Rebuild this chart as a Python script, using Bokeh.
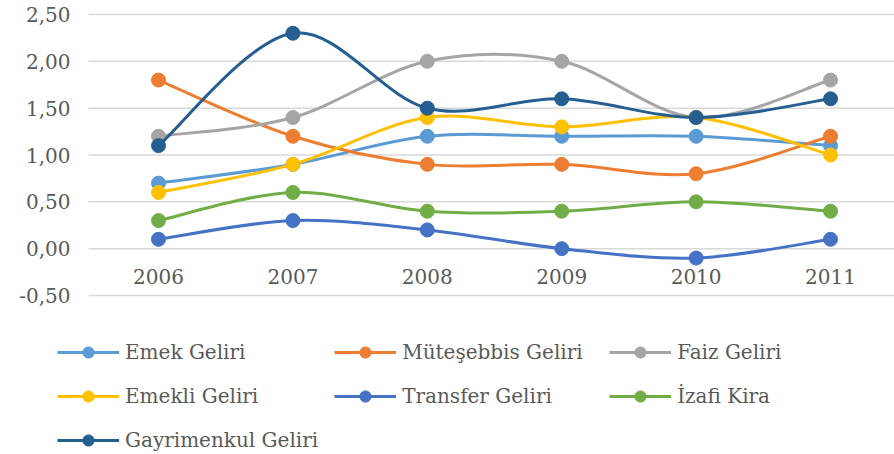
from bokeh.plotting import figure
from bokeh.models import Legend, LegendItem, ColumnDataSource, Range1d
from bokeh.core.properties import value
from bokeh.embed import file_html
from bokeh.resources import INLINE

years = ["2006", "2007", "2008", "2009", "2010", "2011"]
emek = [0.7, 0.9, 1.2, 1.2, 1.2, 1.1]
muteşebbis = [1.8, 1.2, 0.9, 0.9, 0.8, 1.2]
faiz = [1.2, 1.4, 2.0, 2.0, 1.4, 1.8]
emekli = [0.6, 0.9, 1.4, 1.3, 1.4, 1.0]
transfer = [0.1, 0.3, 0.2, 0.0, -0.1, 0.1]
izafi = [0.3, 0.6, 0.4, 0.4, 0.5, 0.4]
gayrimenkul = [1.1, 2.3, 1.5, 1.6, 1.4, 1.6]

series_names = ["Emek Geliri", "Müteşebbis Geliri", "Faiz Geliri",
                "Emekli Geliri", "Transfer Geliri", "İzafi Kira", "Gayrimenkul Geliri"]
series_values = [emek, muteşebbis, faiz, emekli, transfer, izafi, gayrimenkul]
colors = ["#5B9BD5", "#ED7D31", "#A5A5A5", "#FFC000", "#4472C4", "#70AD47", "#255E91"]

y_ticks = [-0.5, 0.0, 0.5, 1.0, 1.5, 2.0, 2.5]
y_tick_labels = ["-0,50", "0,00", "0,50", "1,00", "1,50", "2,00", "2,50"]

FONT = "DejaVu Serif"
TXT = "#595959"

# plot-area extent along x (category axis), in category units
CAT_LEFT, CAT_RIGHT = -0.521, 5.476

# the frame covers the whole canvas; legend and tick labels live inside it
p = figure(width=894, height=454, x_range=Range1d(-1.1756, CAT_RIGHT), y_range=Range1d(-2.1975, 2.6495),
           output_backend="svg", toolbar_location=None, x_axis_location=None, y_axis_location=None,
           min_border_left=0, min_border_right=0, min_border_top=0, min_border_bottom=0)
p.outline_line_color = None
p.xgrid.grid_line_color = None
p.ygrid.grid_line_color = None

# horizontal gridlines
p.segment(x0=[CAT_LEFT] * len(y_ticks), x1=[CAT_RIGHT] * len(y_ticks), y0=y_ticks, y1=y_ticks,
          line_color="#D9D9D9", line_width=1.5)

# y tick labels
p.text(x=[CAT_LEFT] * len(y_ticks), y=y_ticks, text=y_tick_labels, x_offset=-18,
       text_align="right", text_baseline="middle", text_font=value(FONT),
       text_font_size="20px", text_color=TXT)

# category labels just below the zero line
xs = list(range(len(years)))
p.text(x=xs, y=[0] * len(xs), text=years, y_offset=28, text_align="center",
       text_baseline="middle", text_font=value(FONT), text_font_size="20px", text_color=TXT)


def bezier_data(vals):
    n = len(vals)
    pts = [(float(i), float(v)) for i, v in enumerate(vals)]
    d = dict(x0=[], y0=[], x1=[], y1=[], cx0=[], cy0=[], cx1=[], cy1=[])
    for i in range(n - 1):
        pm = pts[max(i - 1, 0)]
        p0 = pts[i]
        p1 = pts[i + 1]
        p2 = pts[min(i + 2, n - 1)]
        d["x0"].append(p0[0]); d["y0"].append(p0[1])
        d["x1"].append(p1[0]); d["y1"].append(p1[1])
        d["cx0"].append(p0[0] + (p1[0] - pm[0]) / 6.0)
        d["cy0"].append(p0[1] + (p1[1] - pm[1]) / 6.0)
        d["cx1"].append(p1[0] - (p2[0] - p0[0]) / 6.0)
        d["cy1"].append(p1[1] - (p2[1] - p0[1]) / 6.0)
    return d


items = []
for name, vals, col in zip(series_names, series_values, colors):
    src = ColumnDataSource(bezier_data(vals))
    br = p.bezier(x0="x0", y0="y0", x1="x1", y1="y1", cx0="cx0", cy0="cy0", cx1="cx1", cy1="cy1",
                  source=src, line_color=col, line_width=3)
    sr = p.scatter(xs, vals, size=14, fill_color=col, line_color=col, marker="circle")
    items.append(LegendItem(label=name, renderers=[br, sr]))

legend = Legend(items=items, location=(57, 0), orientation="horizontal", ncols=3,
                glyph_width=62, glyph_height=28, label_height=28, label_width=191,
                label_standoff=6, spacing=16, padding=0, margin=0,
                border_line_color=None, background_fill_alpha=0,
                label_text_font=FONT, label_text_font_size="20px", label_text_color=TXT)
p.add_layout(legend, "center")

open("out.html", "w").write(file_html(p, INLINE))
